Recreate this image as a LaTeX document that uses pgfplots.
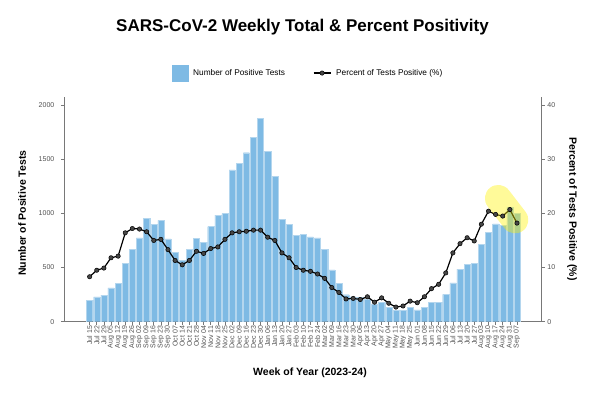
\documentclass[border=0pt]{standalone}
\usepackage{pgfplots}
\pgfplotsset{compat=1.18}
\usepackage{pgfplotstable}
\usepackage{fontspec}
\setmainfont{Liberation Sans}
\definecolor{barblue}{RGB}{126,186,228}
\definecolor{baredge}{RGB}{180,214,238}
\definecolor{axgray}{RGB}{120,120,120}
\definecolor{txtgray}{RGB}{80,80,80}
\definecolor{mkgray}{RGB}{70,70,70}

\pgfplotstableread{
x count
0 197
1 230
2 246
3 313
4 353
5 538
6 666
7 774
8 955
9 897
10 934
11 765
12 639
13 568
14 666
15 771
16 734
17 878
18 983
19 998
20 1401
21 1459
22 1560
23 1699
24 1874
25 1573
26 1342
27 946
28 900
29 796
30 805
31 783
32 774
33 666
34 479
35 353
36 249
37 230
38 227
39 209
40 160
41 181
42 132
43 104
44 104
45 132
46 110
47 132
48 181
49 181
50 252
51 359
52 485
53 528
54 540
55 713
56 823
57 903
58 888
59 1054
60 1001
}\bars

\pgfplotstableread{
x pct
0 8.3
1 9.5
2 9.9
3 11.8
4 12.1
5 16.4
6 17.2
7 17.1
8 16.6
9 15.0
10 15.2
11 13.3
12 11.3
13 10.5
14 11.3
15 13.0
16 12.6
17 13.5
18 13.8
19 15.2
20 16.4
21 16.6
22 16.7
23 16.9
24 16.9
25 15.6
26 15.0
27 12.7
28 11.8
29 10.0
30 9.5
31 9.3
32 8.8
33 8.0
34 6.3
35 5.4
36 4.2
37 4.3
38 4.1
39 4.6
40 3.6
41 4.4
42 3.4
43 2.7
44 2.9
45 3.8
46 3.5
47 4.6
48 6.1
49 6.9
50 9.0
51 12.7
52 14.4
53 15.5
54 14.9
55 18.0
56 20.4
57 19.8
58 19.5
59 20.7
60 18.2
}\pcts

\begin{document}
\begin{tikzpicture}
\path[use as bounding box] (0,0) rectangle (600pt,396pt);
\node[font=\bfseries\fontsize{17}{20}\selectfont] at (302.5pt,368.5pt) {SARS-CoV-2 Weekly Total \& Percent Positivity};
\begin{axis}[
  at={(64pt,74.3pt)}, anchor=south west,
  scale only axis, width=477.7pt, height=224.4pt,
  xmin=-3.6, xmax=63.47, ymin=0, ymax=2071,
  axis x line*=bottom, axis y line*=left,
  axis line style={axgray, line width=0.6pt, -},
  tick style={axgray, line width=0.6pt},
  tick align=outside, major tick length=3pt,
  xtick={0,...,60},
  xticklabels={Jul 15,Jul 22,Jul 29,Aug 05,Aug 12,Aug 19,Aug 26,Sep 02,Sep 09,Sep 16,Sep 23,Sep 30,Oct 07,Oct 14,Oct 21,Oct 28,Nov 04,Nov 11,Nov 18,Nov 25,Dec 02,Dec 09,Dec 16,Dec 23,Dec 30,Jan 06,Jan 13,Jan 20,Jan 27,Feb 03,Feb 10,Feb 17,Feb 24,Mar 02,Mar 09,Mar 16,Mar 23,Mar 30,Apr 06,Apr 13,Apr 20,Apr 27,May 04,May 11,May 18,May 25,Jun 01,Jun 08,Jun 15,Jun 22,Jun 29,Jul 06,Jul 13,Jul 20,Jul 27,Aug 03,Aug 10,Aug 17,Aug 24,Aug 31,Sep 07},
  xticklabel style={rotate=90, anchor=east, font=\fontsize{7}{8}\selectfont, text=txtgray, inner sep=1pt},
  ytick={0,500,1000,1500,2000},
  yticklabel style={font=\fontsize{7}{8}\selectfont, text=txtgray, inner sep=1.5pt, xshift=-5pt},
  /pgf/number format/assume math mode=true,
  /pgf/number format/1000 sep={},
  xlabel={Week of Year (2023-24)},
  xlabel style={font=\bfseries\fontsize{10.5}{12}\selectfont, at={(axis description cs:0.515,-0.2286)}, anchor=center},
  ylabel={Number of Positive Tests},
  ylabel style={font=\bfseries\fontsize{10.5}{12}\selectfont, at={(axis description cs:-0.0879,0.484)}, anchor=center},
  legend columns=2,
  legend style={at={(axis description cs:0.511,1.108)}, anchor=center, draw=none, fill=none,
    font=\fontsize{8.3}{10}\selectfont, column sep=3pt,
    /tikz/every even column/.append style={column sep=26pt}},
  legend cell align=left,
]
\addplot[ybar, bar width=0.86, fill=barblue, draw=baredge, line width=0.3pt,
  area legend, legend image code/.code={\fill[barblue] (0pt,-8pt) rectangle (16pt,8pt);}]
  table[x=x,y=count]{\bars};
\addlegendentry{Number of Positive Tests}
\addlegendimage{legend image code/.code={\draw[black, line width=1.2pt] (0pt,0pt) -- (17pt,0pt); \filldraw[fill=mkgray, draw=black, line width=0.5pt] (8.5pt,0pt) circle (2.2pt);}}
\addlegendentry{Percent of Tests Positive (\%)}
\end{axis}
\begin{axis}[
  at={(64pt,74.3pt)}, anchor=south west,
  scale only axis, width=477.7pt, height=224.4pt,
  xmin=-3.6, xmax=63.47, ymin=0, ymax=41.42,
  axis x line=none, axis y line*=right,
  axis line style={axgray, line width=0.6pt, -},
  tick style={axgray, line width=0.6pt},
  tick align=outside, major tick length=3pt,
  ytick={0,10,20,30,40},
  yticklabel style={font=\fontsize{7}{8}\selectfont, text=txtgray, inner sep=1.5pt, xshift=1pt},
  /pgf/number format/assume math mode=true,
  ylabel={Percent of Tests Positive (\%)},
  ylabel style={font=\bfseries\fontsize{10.5}{12}\selectfont, rotate=180, at={(axis description cs:1.0634,0.502)}, anchor=center},
]
\addplot[black, line width=1.2pt, mark=*, mark size=2.2pt,
  mark options={fill=mkgray, draw=black, line width=0.5pt}]
  table[x=x,y=pct]{\pcts};
\addplot[yellow, opacity=0.4, line width=26.7pt, line cap=round]
  coordinates {(57.37,22.78) (59.72,18.77)};
\end{axis}
\end{tikzpicture}
\end{document}
